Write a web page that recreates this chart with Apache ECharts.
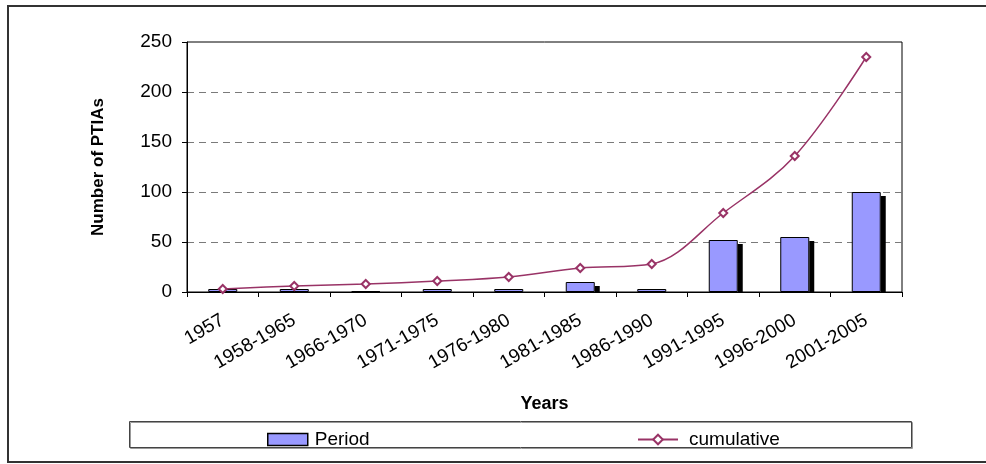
<!DOCTYPE html>
<html>
<head>
<meta charset="utf-8">
<script src="https://cdn.jsdelivr.net/npm/echarts@6/dist/echarts.min.js"></script>
<style>
  html, body { margin: 0; padding: 0; background: #fff; }
  #chart { width: 986px; height: 464px; }
</style>
</head>
<body>
<div id="chart"></div>
<script>
// categories and values
const years = ['1957', '1958-1965', '1966-1970', '1971-1975', '1976-1980',
  '1981-1985', '1986-1990', '1991-1995', '1996-2000', '2001-2005'];
const period = [3, 3, 1, 3, 3, 10, 3, 52, 55, 100];
const cumulative = [3, 6, 8, 11, 15, 24, 28, 79, 136, 235];
const yTicks = [0, 50, 100, 150, 200, 250];

const font = '"Liberation Sans", Arial, sans-serif';
const barW = 29;
const chart = echarts.init(document.getElementById('chart'));

// black drop shadow to the right of each bar, clipped at the x axis
function renderShadow(params, api) {
  const top = api.coord([api.value(0), api.value(1)]);
  const base = api.coord([api.value(0), 0]);
  const y = top[1] + 4;
  const h = base[1] - y;
  if (h <= 0) return null;
  return {
    type: 'rect',
    shape: { x: top[0] + barW / 2, y: y, width: 5, height: h },
    style: { fill: '#000' }
  };
}

const option = {
  animation: false,
  textStyle: { fontFamily: font, color: '#000' },
  grid: {
    left: 187, right: 84, top: 42, bottom: 172,
    show: true, borderColor: '#000', borderWidth: 1, backgroundColor: 'transparent'
  },
  legend: [{
    data: [{ name: 'Period', icon: 'rect' }],
    left: 262, top: 425,
    itemWidth: 40, itemHeight: 12,
    itemStyle: { borderColor: '#000', borderWidth: 1.5 },
    textStyle: { fontFamily: font, fontSize: 19, color: '#000', padding: [0, 0, 0, 2] }
  }, {
    data: ['cumulative'],
    left: 632, top: 425,
    itemWidth: 40, itemHeight: 12,
    textStyle: { fontFamily: font, fontSize: 19, color: '#000', padding: [0, 0, 0, 6] }
  }],
  xAxis: {
    type: 'category',
    data: years,
    name: 'Years',
    nameLocation: 'middle',
    nameGap: 103,
    nameTextStyle: { fontFamily: font, fontSize: 18, fontWeight: 'bold', color: '#000' },
    axisLine: { lineStyle: { color: '#000', width: 1 } },
    axisTick: { show: true, length: 5, lineStyle: { color: '#000' } },
    axisLabel: { rotate: 30, fontFamily: font, fontSize: 19, color: '#000', margin: 27 }
  },
  yAxis: {
    type: 'value',
    min: yTicks[0], max: yTicks[yTicks.length - 1], interval: 50,
    name: 'Number of PTIAs',
    nameLocation: 'middle',
    nameGap: 80,
    nameTextStyle: { fontFamily: font, fontSize: 17, fontWeight: 'bold', color: '#000' },
    axisLine: { show: true, lineStyle: { color: '#000', width: 1 } },
    axisTick: { show: true, length: 5, lineStyle: { color: '#000' } },
    axisLabel: { fontFamily: font, fontSize: 19, color: '#000', margin: 15 },
    splitLine: {
      show: true,
      lineStyle: {
        type: [7, 5],
        color: ['transparent', '#7a7a7a', '#7a7a7a', '#7a7a7a', '#7a7a7a', 'transparent']
      }
    }
  },
  series: [{
    name: 'shadow',
    type: 'custom',
    data: period.map((v, i) => [i, v]),
    encode: { x: 0, y: 1 },
    renderItem: renderShadow,
    silent: true,
    z: 1
  }, {
    name: 'Period',
    type: 'bar',
    data: period,
    barWidth: barW,
    itemStyle: { color: '#9999ff', borderColor: '#000', borderWidth: 1 },
    z: 2
  }, {
    name: 'cumulative',
    type: 'line',
    data: cumulative,
    smooth: 0.35,
    symbol: 'emptyDiamond',
    symbolSize: 8,
    lineStyle: { color: '#993366', width: 1.5 },
    itemStyle: { color: '#993366', borderColor: '#993366', borderWidth: 1.5 },
    z: 5
  }],
  graphic: [{
    type: 'rect',
    shape: { x: 8, y: 6, width: 1000, height: 456 },
    style: { fill: 'none', stroke: '#333', lineWidth: 2 },
    silent: true
  }, {
    type: 'rect',
    shape: { x: 129.5, y: 421.5, width: 782, height: 26 },
    style: { fill: 'none', stroke: '#444', lineWidth: 1, shadowColor: '#999', shadowOffsetX: 1, shadowOffsetY: 1 },
    silent: true
  }]
};

chart.setOption(option);
</script>
</body>
</html>
